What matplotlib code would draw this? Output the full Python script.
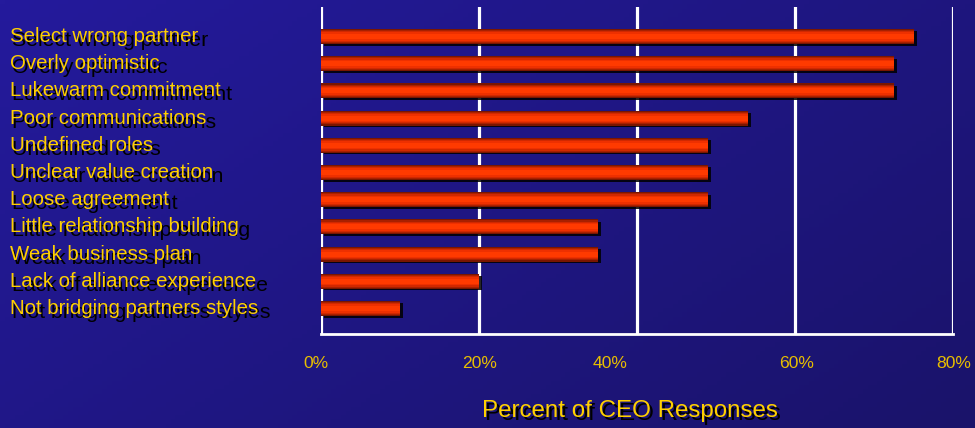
import numpy as np
import matplotlib
matplotlib.use('Agg')
import matplotlib.pyplot as plt
import matplotlib.transforms as mtransforms

### DATA ###
categories = ['Select wrong partner', 'Overly optimistic', 'Lukewarm commitment',
              'Poor communications', 'Undefined roles', 'Unclear value creation',
              'Loose agreement', 'Little relationship building', 'Weak business plan',
              'Lack of alliance experience', 'Not bridging partners styles']
values = [75, 72.5, 72.5, 54, 49, 49, 49, 35, 35, 20, 10]

grid_pos = [0, 20, 40, 60, 80]
tick_pos = [-0.7, 20, 36.5, 60.1, 80]
tick_labels = ['0%', '20%', '40%', '60%', '80%']
x_title = 'Percent of CEO Responses'

### STYLE ###
plt.rcParams['font.family'] = ['Liberation Sans', 'DejaVu Sans']
YELLOW = '#FFD000'
TICK_YELLOW = '#E8BE00'

fig = plt.figure(figsize=(9.75, 4.28), dpi=100)

# Background gradient (diagonal, lighter top-left to darker bottom-right)
bg = fig.add_axes([0, 0, 1, 1], zorder=-10)
gx, gy = np.meshgrid(np.linspace(0, 1, 200), np.linspace(0, 1, 100))
t = (0.6 * gx + 0.4 * gy)[..., None]
c0 = np.array([36, 26, 156]) / 255
c1 = np.array([26, 19, 106]) / 255
bg.imshow(c0 * (1 - t) + c1 * t, aspect='auto', extent=[0, 1, 0, 1])
bg.axis('off')

ax = fig.add_axes([0.3295, 0.2196, 0.6484, 0.764])
ax.patch.set_alpha(0)
y = np.arange(len(categories))

# Vertical white gridlines
for g in grid_pos:
    ax.axvline(g, color='white', lw=2.3, zorder=1)

# Bar shadow
shadow = mtransforms.offset_copy(ax.transData, fig=fig, x=3, y=-2, units='dots')
ax.barh(y, values, height=0.52, color='black', alpha=0.85, transform=shadow, zorder=2)

# Bars with vertical shading (stacked layers, dark edges to bright centre)
shades = ['#7a1600', '#a82000', '#d02800', '#ee3000', '#ff3a00']
heights = [0.55, 0.47, 0.39, 0.30, 0.18]
for col, h in zip(shades, heights):
    ax.barh(y, values, height=h, color=col, zorder=3)

ax.set_xlim(0, 80)
ax.set_ylim(10.94, -1.085)
ax.set_yticks([])
ax.set_xticks([])
for s in ['top', 'left', 'right']:
    ax.spines[s].set_visible(False)
ax.spines['bottom'].set_color('white')
ax.spines['bottom'].set_linewidth(2)

# Category labels with drop shadow (shadow a touch wider, shifted down-right)
lab_tr = mtransforms.blended_transform_factory(fig.transFigure, ax.transData)
lab_sh = mtransforms.offset_copy(lab_tr, fig=fig, x=2, y=-4, units='dots')
for yi, cat in zip(y, categories):
    ax.text(10 / 975, yi, cat, transform=lab_sh, color='black', fontsize=15.3,
            va='center', ha='left', clip_on=False)
    ax.text(10 / 975, yi, cat, transform=lab_tr, color=YELLOW, fontsize=14.7,
            va='center', ha='left', clip_on=False)

# Tick labels
for xp, tl in zip(tick_pos, tick_labels):
    ax.text(xp, -0.0887, tl, transform=ax.get_xaxis_transform(), color=TICK_YELLOW,
            fontsize=12.6, ha='center', va='center', clip_on=False)

# Axis title with shadow
fig.text(0.646, 0.0397, x_title, color='black', fontsize=17.4, ha='center', va='center',
         transform=mtransforms.offset_copy(fig.transFigure, fig=fig, x=3, y=-3, units='dots'))
fig.text(0.646, 0.0397, x_title, color=YELLOW, fontsize=17.4, ha='center', va='center')

fig.savefig('out.png', dpi=100)
